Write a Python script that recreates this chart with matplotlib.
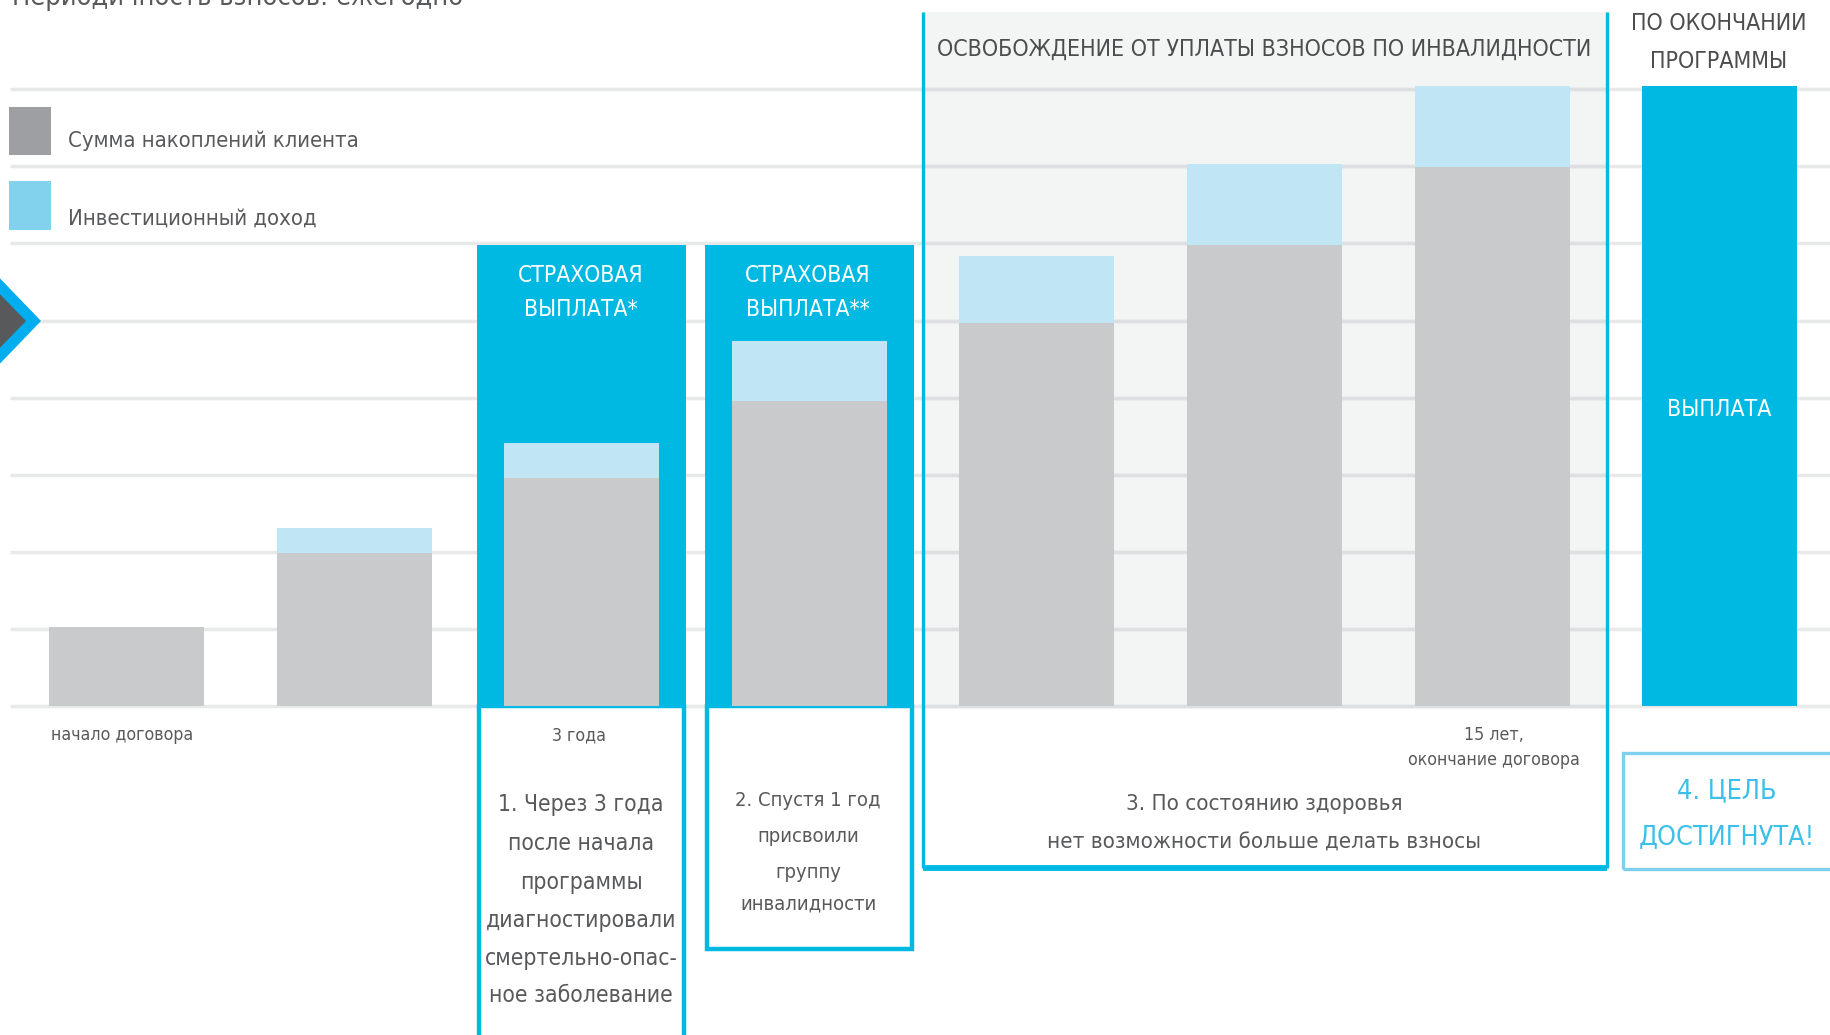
import os
import matplotlib
matplotlib.use('Agg')
import matplotlib.pyplot as plt
from matplotlib import font_manager
from matplotlib.patches import Rectangle, Polygon

# Values (one grid step = 1 unit)
stage_pos = [0, 1, 2, 3, 4, 5, 6]
savings = [1.02, 1.98, 2.96, 3.96, 4.97, 5.98, 6.99]
income = [0.0, 0.33, 0.45, 0.77, 0.87, 1.05, 1.05]
payout_pos = [2, 3]
payout_level = [5.98, 5.98]
final_pos = [7]
final_payout = [8.04]
grid_levels = [0, 1, 2, 3, 4, 5, 6, 7, 8]

legend_labels = ['Сумма накоплений клиента', 'Инвестиционный доход']
waiver_title = 'ОСВОБОЖДЕНИЕ ОТ УПЛАТЫ ВЗНОСОВ ПО ИНВАЛИДНОСТИ'
end_title = ['ПО ОКОНЧАНИИ', 'ПРОГРАММЫ']
payout_titles = [['СТРАХОВАЯ', 'ВЫПЛАТА*'], ['СТРАХОВАЯ', 'ВЫПЛАТА**']]
final_label = 'ВЫПЛАТА'
axis_labels = ['начало договора', '3 года']
end_label = ['15 лет,', 'окончание договора']
case1 = ['1. Через 3 года', 'после начала', 'программы', 'диагностировали',
         'смертельно-опас-', 'ное заболевание']
case2 = ['2. Спустя 1 год', 'присвоили', 'группу', 'инвалидности']
case3 = ['3. По состоянию здоровья', 'нет возможности больше делать взносы']
case4 = ['4. ЦЕЛЬ', 'ДОСТИГНУТА!']
top_note = 'Периодичность взносов: ежегодно'

CYAN = '#00b9e3'
BAR_GRAY = '#c9cacc'
BAR_BLUE = '#c0e6f5'
TEXT = '#58595b'


# the original uses a very narrow sans; take the narrowest installed one with Cyrillic
def pick_narrow():
    prefixes = ('notosans-', 'notosansdisplay-', 'dejavusans', 'roboto',
                'liberationsans', 'opensans', 'lato', 'inter')
    best = None
    for f in font_manager.fontManager.ttflist:
        base = os.path.basename(f.fname).lower().replace(' ', '')
        if not base.startswith(prefixes) or 'mono' in base or 'serif' in base:
            continue
        if f.style != 'normal' or f.weight not in (400, 'normal', 'regular'):
            continue
        if 'extracondensed' in base or 'ultracondensed' in base:
            score = 0
        elif 'semicondensed' in base:
            score = 2
        elif 'condensed' in base or 'narrow' in base:
            score = 1
        else:
            continue
        if best is None or score < best[0]:
            best = (score, f.fname)
    return best[1] if best else None

narrow = pick_narrow()
FONT = font_manager.FontProperties(fname=narrow) if narrow else font_manager.FontProperties(family='DejaVu Sans')

# picture pixel -> data units
X0, DX, Y0, DY = 126.5, 227.6, 706.0, 77.1
def px(x, y):
    return (x - X0) / DX, (Y0 - y) / DY

fig = plt.figure(figsize=(18.3, 10.35), dpi=100)
ax = fig.add_axes([0, 0, 1, 1])
ax.set_xlim(px(0, 0)[0], px(1830, 0)[0])
ax.set_ylim(px(0, 1035)[1], px(0, 0)[1])
ax.axis('off')

# waiver panel background
wx0, wx1 = px(923, 0)[0], px(1607, 0)[0]
wtop, wbot = px(0, 12)[1], px(0, 868)[1]
ax.add_patch(Rectangle((wx0, 0), wx1 - wx0, wtop, fc='#f3f4f4', ec='none', zorder=0.5))

# grid
ax.hlines(grid_levels, px(10, 0)[0], px(1830, 0)[0], color='#e8e9e9', lw=2.5, zorder=1)
ax.hlines(grid_levels, wx0, wx1, color='#dddfe0', lw=2.5, zorder=1.1)

# insurance payout columns and their outlined boxes below the axis
col_w = 209 / DX
ax.bar(payout_pos, payout_level, width=col_w, color=CYAN, zorder=2)
box_bottoms = [px(0, 1060)[1], px(0, 949)[1]]
for p, b in zip(payout_pos, box_bottoms):
    ax.add_patch(Rectangle((p - col_w / 2 + 0.01, b), col_w - 0.02, -b,
                           fc='white', ec=CYAN, lw=3.2, zorder=2))

# stacked bars
bar_w = 155 / DX
ax.bar(stage_pos, savings, width=bar_w, color=BAR_GRAY, zorder=3)
ax.bar(stage_pos, income, bottom=savings, width=bar_w, color=BAR_BLUE, zorder=3)
ax.bar(final_pos, final_payout, width=bar_w, color=CYAN, zorder=3)

# waiver panel border (no top edge)
ax.vlines([wx0, wx1], wbot, wtop, color=CYAN, lw=2.4, zorder=4)
ax.hlines(wbot, wx0, wx1, color=CYAN, lw=4.2, zorder=4)

# goal box
gx0, gy0 = px(1623, 869)
gx1, gy1 = px(1850, 753)
ax.add_patch(Rectangle((gx0, gy0), gx1 - gx0, gy1 - gy0, fill=False,
                       ec='#7fcfee', lw=2.4, zorder=4, clip_on=False))

# legend squares
for (y0, y1), c in zip([(107, 155), (181, 230)], ['#9d9fa2', '#82d2ee']):
    lx0, ly0 = px(9, y1)
    lx1, ly1 = px(51, y0)
    ax.add_patch(Rectangle((lx0, ly0), lx1 - lx0, ly1 - ly0, fc=c, ec='none', zorder=3))

# chevron on the left edge
ax.add_patch(Polygon([px(-10, 268), px(41, 321), px(-10, 374)], closed=True,
                     fc='#00aeef', ec='none', zorder=3))
ax.add_patch(Polygon([px(-10, 284), px(26, 321), px(-10, 358)], closed=True,
                     fc='#58595b', ec='none', zorder=3))

def label(x, y, s, **kw):
    kw.setdefault('color', TEXT)
    kw.setdefault('ha', 'center')
    kw.setdefault('va', 'center')
    return ax.text(*px(x, y), s, fontproperties=FONT, fontsize=16, zorder=6, **kw)

fits = []
def block(x, ys, lines, **kw):
    return [label(x, y, s, **kw) for y, s in zip(ys, lines)]

t = label(12, 5, top_note, ha='left', va='baseline')
fits.append(([t], t, 453))

t = label(1264, 49, waiver_title, color='#4d4d4f')
fits.append(([t], t, 657))

ts = block(1719, [23, 62], end_title, color='#4d4d4f')
fits.append((ts, ts[0], 177))

ts = [label(68, 141, legend_labels[0], ha='left'),
      label(68, 219, legend_labels[1], ha='left')]
fits.append((ts, ts[0], 295))

ts = block(581, [275, 310], payout_titles[0], color='white')
ts += block(808, [275, 310], payout_titles[1], color='white')
fits.append((ts, ts[0], 126))

t = label(1719, 410, final_label, color='white')
fits.append(([t], t, 105))

ts = [label(122, 735, axis_labels[0]), label(579, 735, axis_labels[1])]
ts += block(1494, [735, 760], end_label)
fits.append((ts, ts[0], 142))

ts = block(581, [805, 844, 882, 921, 958, 996], case1)
fits.append((ts, ts[4], 194))

ts = block(808, [801, 837, 872, 904], case2)
fits.append((ts, ts[0], 146))

ts = block(1264, [804, 843], case3)
fits.append((ts, ts[1], 435))

ts = block(1727, [791, 837], case4, color='#3cc0ea')
fits.append((ts, ts[1], 177))

renderer = fig.canvas.get_renderer()
for group, ref, width in fits:
    scale = width / ref.get_window_extent(renderer).width
    for t in group:
        t.set_fontsize(t.get_fontsize() * scale)

fig.savefig('out.png', dpi=100, facecolor='white')
